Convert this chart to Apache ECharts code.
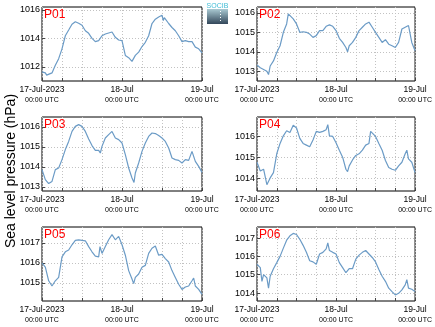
<!DOCTYPE html>
<html>
<head>
<meta charset="utf-8">
<script src="https://cdn.jsdelivr.net/npm/echarts@6/dist/echarts.min.js"></script>
<style>
  html, body { margin: 0; padding: 0; background: #fff; }
  #chart { width: 435px; height: 327px; }
</style>
</head>
<body>
<div id="chart"></div>
<script>
// Sea level pressure (hPa), pairs of [hours since 17-Jul-2023 00:00 UTC, value]
const P01 = [[0,1011.64],[1,1011.57],[1.4,1011.41],[2,1011.52],[3,1011.57],[3.4,1011.62],[4,1012.1],[5,1012.57],[6,1013.26],[7,1014.18],[8,1014.58],[9,1014.99],[10,1015.16],[11,1015.06],[12,1014.92],[13,1014.53],[14,1014.35],[15,1014.0],[16,1013.77],[17,1013.84],[18,1014.18],[19,1014.3],[20,1014.37],[21,1014.44],[22,1014.07],[23,1013.88],[24,1013.84],[25,1012.8],[26,1012.64],[27,1012.38],[27.5,1012.29],[28,1012.8],[29,1013.03],[30,1013.42],[31,1013.72],[32,1014.18],[33,1015.04],[34,1015.34],[35,1015.5],[36,1015.62],[36.4,1015.25],[36.7,1015.45],[37,1015.34],[38,1015.04],[39,1014.76],[40,1014.53],[41,1014.18],[42,1013.77],[43,1013.84],[44,1013.77],[45,1013.77],[46,1013.38],[47,1013.26],[48,1012.98]];
const P02 = [[0,1013.32],[1,1013.18],[2,1013.09],[3,1013.0],[3.5,1012.83],[4,1013.27],[5,1013.53],[6,1013.96],[7,1014.31],[8,1015.0],[9,1015.43],[9.5,1015.95],[10,1015.87],[11,1015.69],[12,1015.43],[13,1015.0],[14,1015.03],[15,1015.0],[16,1014.91],[17,1014.74],[18,1014.83],[19,1015.09],[20,1015.09],[21,1015.31],[22,1015.38],[23,1015.31],[24,1015.09],[25,1014.69],[26,1014.48],[27,1014.22],[27.5,1014.0],[28,1014.31],[29,1014.48],[30,1014.74],[31,1015.09],[32,1015.26],[33,1015.43],[34,1015.52],[35,1015.26],[36,1015.0],[37,1014.74],[38,1014.48],[39,1014.62],[40,1014.39],[41,1014.31],[42,1014.22],[43,1014.48],[44,1015.17],[45,1015.26],[46,1015.35],[47,1014.48],[48,1014.05]];
const P03 = [[0,1013.87],[1,1013.37],[2,1013.17],[3,1013.28],[4,1013.87],[5,1013.95],[6,1014.37],[7,1014.87],[8,1015.28],[9,1015.78],[10,1016.03],[11,1016.12],[12,1016.03],[13,1015.78],[14,1015.4],[15,1015.07],[16,1014.83],[17,1014.83],[17.5,1014.7],[18,1015.03],[19,1015.45],[20,1015.62],[21,1015.78],[21.6,1015.87],[22,1015.45],[23,1015.37],[24,1015.2],[25,1014.62],[26,1013.95],[27,1013.45],[27.6,1013.23],[28,1013.7],[29,1014.2],[30,1014.78],[31,1015.2],[32,1015.53],[33,1015.7],[34,1015.67],[35,1015.57],[36,1015.45],[37,1015.28],[38,1014.95],[39,1014.45],[40,1014.37],[41,1014.33],[42,1014.2],[43,1014.37],[44,1014.33],[45,1014.78],[45.5,1014.87],[46,1014.28],[47,1014.03],[48,1013.73]];
const P04 = [[0,1014.76],[1,1014.35],[2,1014.43],[3,1013.7],[3.5,1013.62],[4,1014.02],[5,1014.27],[6,1015.16],[7,1015.65],[8,1016.01],[9,1016.25],[10,1016.17],[11,1016.51],[12,1016.38],[13,1015.89],[14,1015.65],[15,1015.57],[16,1015.49],[17,1015.81],[18,1016.22],[19,1016.17],[20,1016.22],[21,1016.3],[21.5,1016.54],[22,1016.01],[23,1015.98],[24,1015.68],[25,1015.33],[26,1015.0],[27,1014.43],[27.5,1014.32],[28,1014.59],[29,1014.87],[30,1015.08],[31,1015.16],[32,1015.33],[33,1015.57],[34,1015.65],[34.5,1016.22],[35,1016.17],[36,1015.98],[37,1015.65],[38,1015.33],[39,1014.84],[40,1014.51],[41,1014.43],[42,1014.38],[43,1014.59],[44,1014.76],[45,1015.16],[45.5,1015.33],[46,1014.92],[47,1014.76],[48,1014.27]];
const P05 = [[0,1016.0],[1,1015.79],[2,1015.11],[3,1014.85],[4,1015.11],[5,1015.28],[6,1016.31],[7,1016.56],[8,1016.65],[9,1016.91],[10,1017.13],[11,1017.16],[12,1017.13],[13,1017.11],[14,1016.82],[15,1016.56],[16,1016.34],[17,1016.31],[17.4,1016.82],[18,1016.48],[19,1016.82],[20,1017.16],[21,1017.42],[22,1017.16],[23,1017.33],[24,1016.91],[25,1016.39],[26,1015.62],[27,1015.2],[27.5,1014.97],[28,1015.28],[29,1015.45],[30,1015.79],[31,1015.88],[32,1016.48],[33,1016.74],[34,1016.85],[35,1016.39],[36,1016.43],[37,1016.22],[38,1016.05],[39,1015.62],[40,1015.28],[41,1014.94],[42,1014.68],[43,1014.8],[44,1014.85],[45,1015.11],[45.5,1015.25],[46,1014.85],[47,1014.68],[48,1014.43]];
const P06 = [[0,1015.57],[1,1015.39],[1.5,1014.64],[2,1015.01],[3,1014.83],[3.5,1014.27],[4,1014.92],[5,1015.33],[6,1015.66],[7,1016.0],[8,1016.45],[9,1016.88],[10,1017.12],[11,1017.25],[12,1017.19],[13,1016.93],[14,1016.6],[15,1016.22],[16,1015.76],[17,1015.7],[18,1015.57],[19,1016.13],[20,1016.22],[21,1016.41],[21.5,1016.73],[22,1016.32],[23,1016.22],[24,1016.13],[25,1015.66],[26,1015.39],[27,1015.11],[27.5,1015.01],[28,1015.33],[29,1015.33],[30,1015.85],[31,1016.07],[32,1016.22],[33,1016.32],[34,1016.13],[35,1015.94],[36,1015.7],[37,1015.29],[38,1014.92],[39,1014.64],[40,1014.27],[41,1014.08],[42,1013.9],[43,1013.99],[44,1014.18],[45,1014.45],[45.5,1014.73],[46,1014.27],[47,1014.21],[48,1014.08]];

const stations = ['P01', 'P02', 'P03', 'P04', 'P05', 'P06'];
const seriesData = [P01, P02, P03, P04, P05, P06];

// y ranges and labelled ticks per panel
const yMin = [1011, 1012.5, 1012.8, 1013.4, 1014.1, 1013.57];
const yMax = [1016.2, 1016.3, 1016.5, 1016.9, 1017.8, 1017.6];
const yTicks = [
  [1012, 1014, 1016],
  [1013, 1014, 1015, 1016],
  [1013, 1014, 1015, 1016],
  [1014, 1015, 1016],
  [1015, 1016, 1017],
  [1014, 1015, 1016, 1017]
];

// x axis: hours, ticks every 6 h, labels at the day boundaries
const xTickHours = [0, 6, 12, 18, 24, 30, 36, 42, 48];
const xLabelHours = [0, 24, 48];
const xLabelDates = ['17-Jul-2023', '18-Jul', '19-Jul'];
const xLabelTime = '00:00 UTC';

const FONT = 'Liberation Sans, Arial, Helvetica, sans-serif';
const LINE_COLOR = '#6b9bc6';

const colLeft = [42, 257];
const rowTop = [7, 117, 227];
const plotW = 160;
const plotH = 74;

const grids = [], xAxes = [], yAxes = [], series = [], graphics = [];

stations.forEach((name, i) => {
  const col = i % 2, row = Math.floor(i / 2);
  const left = colLeft[col], top = rowTop[row];
  grids.push({
    left: left, top: top, width: plotW, height: plotH,
    show: true, borderColor: '#000', borderWidth: 1, backgroundColor: '#fff'
  });
  xAxes.push({
    type: 'value', gridIndex: i, min: 0, max: 48,
    axisLine: { show: false },
    axisTick: { show: true, inside: true, length: 3, customValues: xTickHours,
                lineStyle: { color: '#444', width: 1 } },
    splitLine: { show: true, lineStyle: { color: '#c2c2c2', type: [1, 2], width: 1 } },
    axisLabel: {
      customValues: xLabelHours, margin: 4, color: '#000',
      formatter: v => {
        const k = xLabelHours.indexOf(v);
        return k < 0 ? '' : '{d|' + xLabelDates[k] + '}\n{t|' + xLabelTime + '}';
      },
      rich: {
        d: { fontFamily: FONT, fontSize: 8.5, color: '#000', lineHeight: 10 },
        t: { fontFamily: FONT, fontSize: 7, color: '#000', lineHeight: 10 }
      }
    }
  });
  yAxes.push({
    type: 'value', gridIndex: i, min: yMin[i], max: yMax[i],
    axisLine: { show: false },
    axisTick: { show: true, inside: true, length: 3, customValues: yTicks[i],
                lineStyle: { color: '#444', width: 1 } },
    splitLine: { show: true, lineStyle: { color: '#c2c2c2', type: [1, 2], width: 1 } },
    axisLabel: { customValues: yTicks[i], margin: 2, color: '#000',
                 fontFamily: FONT, fontSize: 9, formatter: v => String(v) }
  });
  series.push({
    type: 'line', xAxisIndex: i, yAxisIndex: i, data: seriesData[i],
    showSymbol: false, symbol: 'none', animation: false,
    lineStyle: { color: LINE_COLOR, width: 1.2 }
  });
  graphics.push({
    type: 'text', left: left + 2, top: top + 2, z: 100,
    style: { text: name, fill: '#ff0000', font: '12px ' + FONT }
  });
});

// shared y-axis title
graphics.push({
  type: 'text', x: 11, y: 171, rotation: Math.PI / 2,
  style: { text: 'Sea level pressure (hPa)', fill: '#000', font: '14px ' + FONT,
           align: 'center', verticalAlign: 'middle' }
});

// small SOCIB badge between the top panels
graphics.push({
  type: 'group', x: 207, y: 3,
  children: [
    { type: 'rect', shape: { x: 0, y: 6, width: 21, height: 15 },
      style: { fill: new echarts.graphic.LinearGradient(0, 0, 0, 1, [
        { offset: 0, color: '#a9c9d2' }, { offset: 1, color: '#33475a' }]) } },
    { type: 'line', shape: { x1: 13.5, y1: 8, x2: 13.5, y2: 20 },
      style: { stroke: '#ffffff', lineWidth: 1, lineDash: [1, 2] } },
    { type: 'text', x: 10.5, y: 0,
      style: { text: 'SOCIB', fill: '#3fbcd6', font: '7px ' + FONT, align: 'center' } }
  ]
});

const chart = echarts.init(document.getElementById('chart'), null, { renderer: 'canvas' });
chart.setOption({
  backgroundColor: '#fff',
  animation: false,
  grid: grids,
  xAxis: xAxes,
  yAxis: yAxes,
  series: series,
  graphic: graphics
});
</script>
</body>
</html>
